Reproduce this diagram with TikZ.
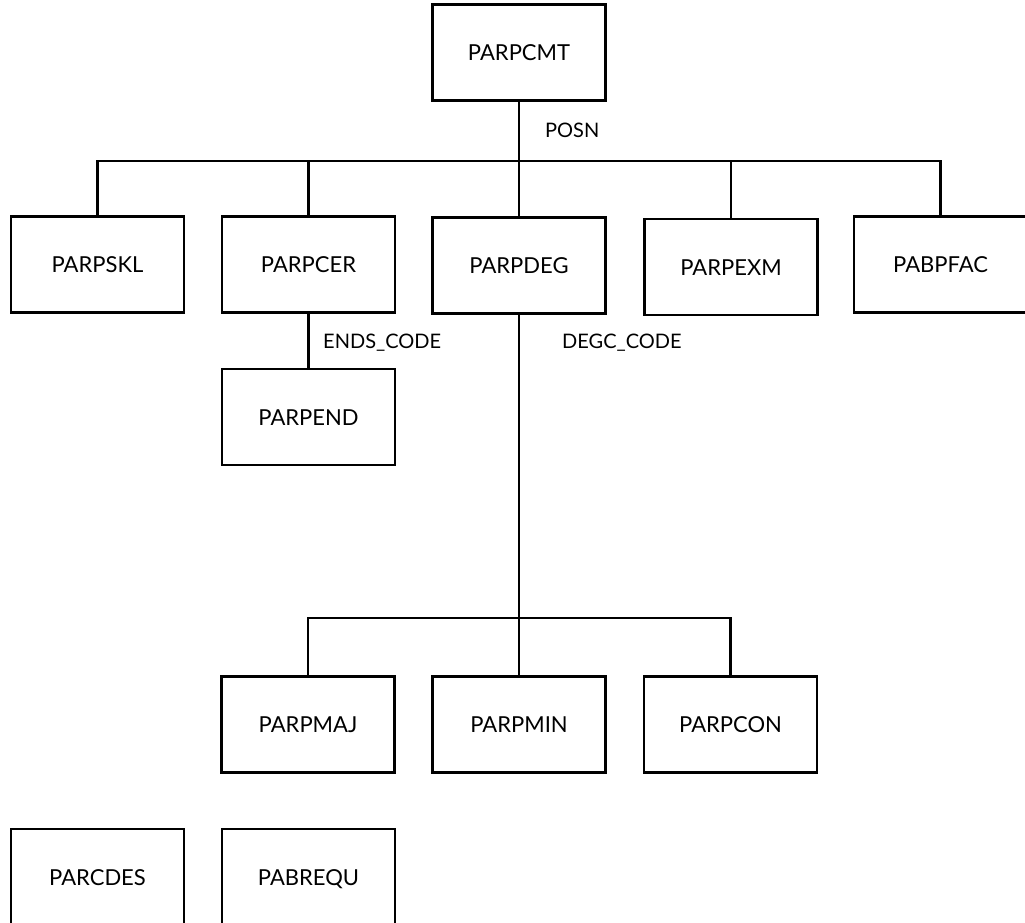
\documentclass[tikz,border=0pt]{standalone}
\usepackage{fontspec}
\setmainfont{Lato}
\begin{document}
\begin{tikzpicture}[x=1pt,y=-1pt,
  box/.style={draw,line width=2.2pt,minimum width=173pt,minimum height=96pt,inner sep=0pt,
    text height=16pt,text depth=0pt,font=\fontsize{22}{25}\selectfont},
  lbl/.style={anchor=west,inner sep=0pt,text height=14pt,text depth=0pt,font=\fontsize{20}{23}\selectfont},
  conn/.style={line width=2.2pt}]
\useasboundingbox (0,0) rectangle (1025,922);
\node[box] (cmt) at (519,52.5) {PARPCMT};
\node[box] (skl) at (97.5,264.5) {PARPSKL};
\node[box] (cer) at (308.5,264.5) {PARPCER};
\node[box] (deg) at (519,265.5) {PARPDEG};
\node[box] (exm) at (731,267) {PARPEXM};
\node[box] (fac) at (940.5,264.5) {PABPFAC};
\node[box] (end) at (308.5,417) {PARPEND};
\node[box] (maj) at (308,724.5) {PARPMAJ};
\node[box] (min) at (519,724.5) {PARPMIN};
\node[box] (con) at (730.5,724.5) {PARPCON};
\node[box] (cdes) at (97.5,877) {PARCDES};
\node[box] (requ) at (308.5,877) {PABREQU};
\coordinate (b1) at (519,161);
\coordinate (b2) at (519,618);
\draw[conn] (cmt.south) -- (b1);
\draw[conn] (skl.north) |- (b1) -| (fac.north);
\draw[conn] (cer.north) |- (b1);
\draw[conn] (deg.north) -- (b1);
\draw[conn] (exm.north) |- (b1);
\draw[conn] (cer.south) -- (end.north);
\draw[conn] (deg.south) -- (min.north);
\draw[conn] (maj.north) |- (b2) -| (con.north);
\node[lbl] (posn) at (545,130) {POSN};
\node[lbl] (endsc) at (323,341) {ENDS\_CODE};
\node[lbl] (degc) at (562,341) {DEGC\_CODE};
\end{tikzpicture}
\end{document}
